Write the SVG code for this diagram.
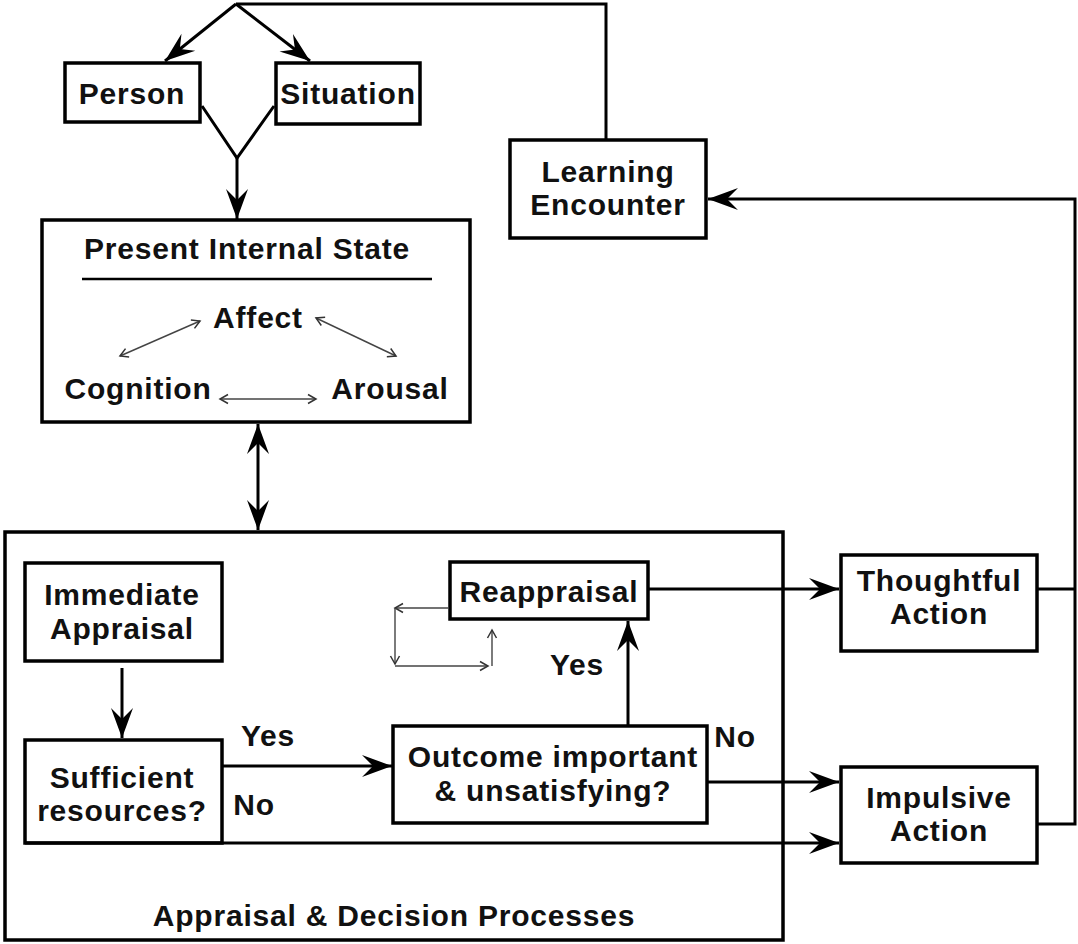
<svg xmlns="http://www.w3.org/2000/svg" width="1078" height="944" viewBox="0 0 1078 944">
<style>
.box{fill:#fff;stroke:#000;stroke-width:3.5}
.frame{fill:none;stroke:#000;stroke-width:3.5}
.ln{fill:none;stroke:#000;stroke-width:3}
.thin{fill:none;stroke:#444;stroke-width:1.4}
text{font-family:"Liberation Sans",Arial,sans-serif;font-weight:bold;font-size:30px;letter-spacing:0.8px;fill:#111;text-anchor:middle}
</style>
<defs>
<marker id="ah" viewBox="-32 -13 34 26" markerWidth="34" markerHeight="26" refX="0" refY="0" orient="auto-start-reverse" markerUnits="userSpaceOnUse">
<path d="M0,0 L-30,-11 L-19,0 L-30,11 Z" fill="#000"/>
</marker>
<marker id="sm" viewBox="-10 -6 12 12" markerWidth="12" markerHeight="12" refX="0" refY="0" orient="auto-start-reverse" markerUnits="userSpaceOnUse">
<path d="M-8,-4.5 L0,0 L-8,4.5" fill="none" stroke="#333" stroke-width="1.5"/>
</marker>
</defs>
<rect width="1078" height="944" fill="#fff"/>
<g id="person"><rect class="box" x="65" y="63" width="135" height="59"/><text x="132" y="104">Person</text></g>
<g id="situation"><rect class="box" x="276" y="63" width="144" height="61"/><text x="348" y="104">Situation</text></g>
<g id="learning"><rect class="box" x="510" y="140" width="196" height="98"/><text x="608" y="182">Learning</text><text x="608" y="215">Encounter</text></g>
<g id="internal-state">
<rect class="box" x="42" y="220" width="428" height="202"/>
<text x="247" y="259">Present Internal State</text>
<line x1="82" y1="279" x2="432" y2="279" stroke="#000" stroke-width="2.5"/>
<text x="258" y="328">Affect</text>
<text x="138" y="399">Cognition</text>
<text x="390" y="399">Arousal</text>
</g>
<g id="appraisal-decision">
<rect class="frame" x="5" y="532" width="778" height="408"/>
<text x="394" y="926" font-size="32">Appraisal &amp; Decision Processes</text>
</g>
<g id="immediate"><rect class="box" x="25" y="563" width="197" height="98"/><text x="122" y="605">Immediate</text><text x="122" y="639">Appraisal</text></g>
<g id="sufficient"><rect class="box" x="25" y="740" width="197" height="103"/><text x="122" y="788">Sufficient</text><text x="122" y="821">resources?</text></g>
<g id="outcome"><rect class="box" x="393" y="726" width="314" height="97"/><text x="553" y="767">Outcome important</text><text x="553" y="801">&amp; unsatisfying?</text></g>
<g id="reappraisal"><rect class="box" x="450" y="562" width="198" height="57"/><text x="549" y="602">Reappraisal</text></g>
<g id="thoughtful"><rect class="box" x="841" y="555" width="196" height="96"/><text x="939" y="591">Thoughtful</text><text x="939" y="624">Action</text></g>
<g id="impulsive"><rect class="box" x="841" y="767" width="196" height="96"/><text x="939" y="808">Impulsive</text><text x="939" y="841">Action</text></g>
<g id="labels">
<text x="268" y="746">Yes</text>
<text x="254" y="815">No</text>
<text x="577" y="675">Yes</text>
<text x="735" y="747">No</text>
</g>
<g id="connectors">
<polyline class="ln" points="606,140 606,4 236,4"/>
<line class="ln" x1="236" y1="4" x2="165" y2="61" marker-end="url(#ah)"/>
<line class="ln" x1="236" y1="4" x2="310" y2="61" marker-end="url(#ah)"/>
<polyline class="ln" points="202,106 237,158 274,106"/>
<line class="ln" x1="237" y1="158" x2="237" y2="219" marker-end="url(#ah)"/>
<line class="ln" x1="258" y1="424" x2="258" y2="530" stroke-width="3.5" marker-start="url(#ah)" marker-end="url(#ah)"/>
<line class="ln" x1="122" y1="668" x2="122" y2="738" marker-end="url(#ah)"/>
<line class="ln" x1="223" y1="766" x2="392" y2="766" marker-end="url(#ah)"/>
<line class="ln" x1="628" y1="725" x2="628" y2="621" marker-end="url(#ah)"/>
<line class="ln" x1="649" y1="589" x2="839" y2="589" marker-end="url(#ah)"/>
<line class="ln" x1="708" y1="782" x2="839" y2="782" marker-end="url(#ah)"/>
<line class="ln" x1="25" y1="843" x2="839" y2="843" marker-end="url(#ah)"/>
<line class="ln" x1="1038" y1="589" x2="1075" y2="589"/>
<polyline class="ln" points="1038,824 1075,824 1075,199 708,199" marker-end="url(#ah)"/>
<line class="thin" x1="120" y1="356" x2="200" y2="321" marker-start="url(#sm)" marker-end="url(#sm)"/>
<line class="thin" x1="316" y1="318" x2="396" y2="356" marker-start="url(#sm)" marker-end="url(#sm)"/>
<line class="thin" x1="220" y1="399" x2="316" y2="399" marker-start="url(#sm)" marker-end="url(#sm)"/>
<line class="thin" x1="448" y1="608" x2="395" y2="608" marker-end="url(#sm)"/>
<line class="thin" x1="395" y1="608" x2="395" y2="664" marker-end="url(#sm)"/>
<line class="thin" x1="395" y1="666" x2="488" y2="666" marker-end="url(#sm)"/>
<line class="thin" x1="492" y1="666" x2="492" y2="630" marker-end="url(#sm)"/>
</g>
</svg>
